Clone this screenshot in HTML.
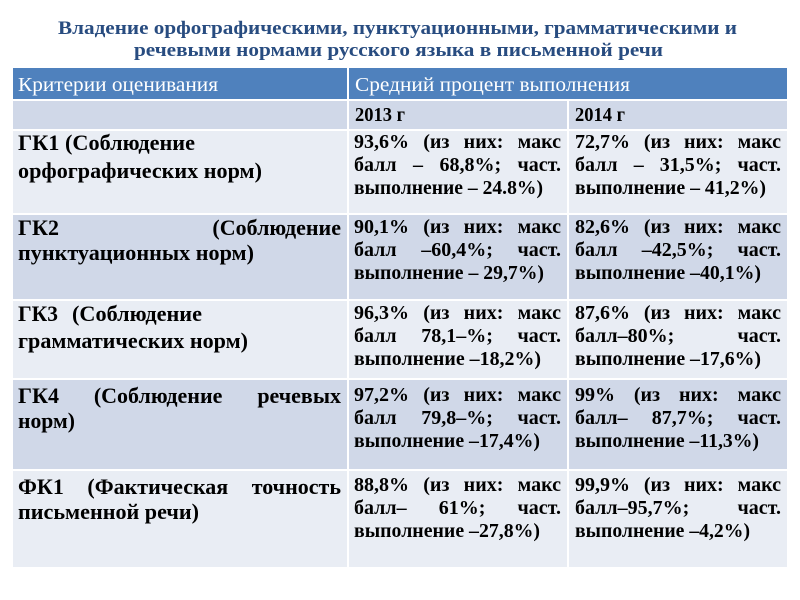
<!DOCTYPE html>
<html><head><meta charset="utf-8">
<style>
html,body{margin:0;padding:0;background:#fff;}
#w{position:relative;width:800px;height:600px;overflow:hidden;background:#fff;font-family:"Liberation Serif","Noto Serif CJK SC",serif;}
.c{position:absolute;}
.h{background:#4F81BD;}
.d{background:#D0D8E8;}
.l{background:#E9EDF4;}
.t{position:absolute;font-weight:bold;color:#000;white-space:nowrap;}
.a{font-size:22px;line-height:22px;left:18px;}
.b{font-size:20px;line-height:20px;left:354px;width:207px;}
.e{font-size:20px;line-height:20px;left:575px;width:206px;}
.j{display:flex;justify-content:space-between;}
.a.j{width:323px;}
svg text{font-family:"Liberation Serif","Noto Serif CJK SC",serif;}
.s{font-weight:bold;font-size:22px;fill:#000;}
.m{font-weight:bold;font-size:20px;fill:#000;}
</style></head><body><div id="w">
<!-- header -->
<div class="c h" style="left:13px;top:68px;width:334px;height:31px"></div>
<div class="c h" style="left:349px;top:68px;width:438px;height:31px"></div>
<!-- subheader -->
<div class="c d" style="left:13px;top:101px;width:334px;height:28px"></div>
<div class="c d" style="left:349px;top:101px;width:218px;height:28px"></div>
<div class="c d" style="left:569px;top:101px;width:218px;height:28px"></div>
<!-- GK1 -->
<div class="c l" style="left:13px;top:131px;width:334px;height:82px"></div>
<div class="c l" style="left:349px;top:131px;width:218px;height:82px"></div>
<div class="c l" style="left:569px;top:131px;width:218px;height:82px"></div>
<!-- GK2 -->
<div class="c d" style="left:13px;top:215px;width:334px;height:84px"></div>
<div class="c d" style="left:349px;top:215px;width:218px;height:84px"></div>
<div class="c d" style="left:569px;top:215px;width:218px;height:84px"></div>
<!-- GK3 -->
<div class="c l" style="left:13px;top:301px;width:334px;height:77px"></div>
<div class="c l" style="left:349px;top:301px;width:218px;height:77px"></div>
<div class="c l" style="left:569px;top:301px;width:218px;height:77px"></div>
<!-- GK4 -->
<div class="c d" style="left:13px;top:380px;width:334px;height:89px"></div>
<div class="c d" style="left:349px;top:380px;width:218px;height:89px"></div>
<div class="c d" style="left:569px;top:380px;width:218px;height:89px"></div>
<!-- FK1 -->
<div class="c l" style="left:13px;top:471px;width:334px;height:96px"></div>
<div class="c l" style="left:349px;top:471px;width:218px;height:96px"></div>
<div class="c l" style="left:569px;top:471px;width:218px;height:96px"></div>

<svg class="c" style="left:0;top:0" width="800" height="600">
<text x="58" y="34" textLength="679" lengthAdjust="spacingAndGlyphs" style="font-weight:bold;font-size:19px" fill="#284C80">Владение орфографическими, пунктуационными, грамматическими и</text>
<text x="134" y="56" textLength="529" lengthAdjust="spacingAndGlyphs" style="font-weight:bold;font-size:19px" fill="#284C80">речевыми нормами русского языка в письменной речи</text>

<text x="18" y="91" textLength="200" lengthAdjust="spacingAndGlyphs" style="font-size:20px" fill="#fff">Критерии оценивания</text>
<text x="355" y="91" textLength="275" lengthAdjust="spacingAndGlyphs" style="font-size:20px" fill="#fff">Средний процент выполнения</text>
<text x="355" y="121" textLength="50" lengthAdjust="spacingAndGlyphs" class="m">2013 г</text>
<text x="575" y="121" textLength="50" lengthAdjust="spacingAndGlyphs" class="m">2014 г</text>

<!-- col1 non-justified lines -->
<text x="18" y="150" textLength="177" lengthAdjust="spacingAndGlyphs" class="s">ГК1 (Соблюдение</text>
<text x="18" y="178" textLength="244" lengthAdjust="spacingAndGlyphs" class="s">орфографических норм)</text>
<text x="18" y="260" textLength="236" lengthAdjust="spacingAndGlyphs" class="s">пунктуационных норм)</text>
<text x="18" y="321" textLength="40" lengthAdjust="spacingAndGlyphs" class="s">ГК3</text>
<text x="72" y="321" textLength="130" lengthAdjust="spacingAndGlyphs" class="s">(Соблюдение</text>
<text x="18" y="348" textLength="230" lengthAdjust="spacingAndGlyphs" class="s">грамматических норм)</text>
<text x="18" y="428" textLength="57" lengthAdjust="spacingAndGlyphs" class="s">норм)</text>
<text x="18" y="519" textLength="181" lengthAdjust="spacingAndGlyphs" class="s">письменной речи)</text>

<!-- col2 last lines -->
<text x="354" y="194" textLength="189" lengthAdjust="spacingAndGlyphs" class="m">выполнение – 24.8%)</text>
<text x="354" y="279" textLength="190" lengthAdjust="spacingAndGlyphs" class="m">выполнение – 29,7%)</text>
<text x="354" y="365" textLength="187" lengthAdjust="spacingAndGlyphs" class="m">выполнение –18,2%)</text>
<text x="354" y="447" textLength="186" lengthAdjust="spacingAndGlyphs" class="m">выполнение –17,4%)</text>
<text x="354" y="537" textLength="186" lengthAdjust="spacingAndGlyphs" class="m">выполнение –27,8%)</text>

<!-- col3 last lines -->
<text x="575" y="194" textLength="191" lengthAdjust="spacingAndGlyphs" class="m">выполнение – 41,2%)</text>
<text x="575" y="279" textLength="186" lengthAdjust="spacingAndGlyphs" class="m">выполнение –40,1%)</text>
<text x="575" y="365" textLength="186" lengthAdjust="spacingAndGlyphs" class="m">выполнение –17,6%)</text>
<text x="575" y="447" textLength="184" lengthAdjust="spacingAndGlyphs" class="m">выполнение –11,3%)</text>
<text x="575" y="537" textLength="175" lengthAdjust="spacingAndGlyphs" class="m">выполнение –4,2%)</text>
</svg>

<!-- Column 1 justified -->
<div class="t a j" style="top:217px"><span>ГК2</span><span>(Соблюдение</span></div>
<div class="t a j" style="top:385px"><span>ГК4</span><span>(Соблюдение</span><span>речевых</span></div>
<div class="t a j" style="top:476px"><span>ФК1</span><span>(Фактическая</span><span>точность</span></div>

<!-- Column 2 justified -->
<div class="t b j" style="top:132px"><span>93,6%</span><span>(из</span><span>них:</span><span>макс</span></div>
<div class="t b j" style="top:155px"><span>балл</span><span>–</span><span>68,8%;</span><span>част.</span></div>
<div class="t b j" style="top:217px"><span>90,1%</span><span>(из</span><span>них:</span><span>макс</span></div>
<div class="t b j" style="top:240px"><span>балл</span><span>–60,4%;</span><span>част.</span></div>
<div class="t b j" style="top:303px"><span>96,3%</span><span>(из</span><span>них:</span><span>макс</span></div>
<div class="t b j" style="top:326px"><span>балл</span><span>78,1–%;</span><span>част.</span></div>
<div class="t b j" style="top:385px"><span>97,2%</span><span>(из</span><span>них:</span><span>макс</span></div>
<div class="t b j" style="top:408px"><span>балл</span><span>79,8–%;</span><span>част.</span></div>
<div class="t b j" style="top:475px"><span>88,8%</span><span>(из</span><span>них:</span><span>макс</span></div>
<div class="t b j" style="top:498px"><span>балл–</span><span>61%;</span><span>част.</span></div>

<!-- Column 3 justified -->
<div class="t e j" style="top:132px"><span>72,7%</span><span>(из</span><span>них:</span><span>макс</span></div>
<div class="t e j" style="top:155px"><span>балл</span><span>–</span><span>31,5%;</span><span>част.</span></div>
<div class="t e j" style="top:217px"><span>82,6%</span><span>(из</span><span>них:</span><span>макс</span></div>
<div class="t e j" style="top:240px"><span>балл</span><span>–42,5%;</span><span>част.</span></div>
<div class="t e j" style="top:303px"><span>87,6%</span><span>(из</span><span>них:</span><span>макс</span></div>
<div class="t e j" style="top:326px"><span>балл–80%;</span><span>част.</span></div>
<div class="t e j" style="top:385px"><span>99%</span><span>(из</span><span>них:</span><span>макс</span></div>
<div class="t e j" style="top:408px"><span>балл–</span><span>87,7%;</span><span>част.</span></div>
<div class="t e j" style="top:475px"><span>99,9%</span><span>(из</span><span>них:</span><span>макс</span></div>
<div class="t e j" style="top:498px"><span>балл–95,7%;</span><span>част.</span></div>
</div></body></html>
